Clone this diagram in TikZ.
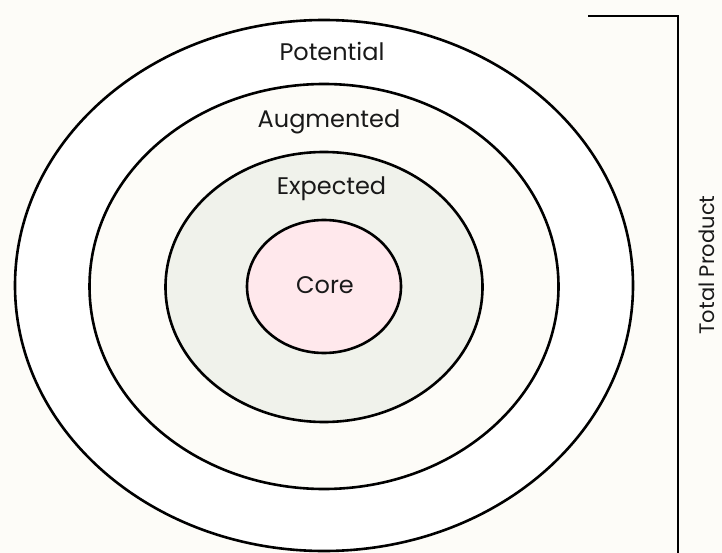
\documentclass[tikz,border=0pt]{standalone}
\usepackage{fontspec}
\setmainfont{Poppins}
\begin{document}
\begin{tikzpicture}[x=1pt,y=-1pt,
  ring/.style={draw=black, line width=2.6pt},
  lbl/.style={inner sep=0pt, anchor=base, text=black!90, font=\fontsize{24}{28}\selectfont},
  sidelbl/.style={inner sep=0pt, anchor=base, text=black!90, font=\fontsize{21}{24}\selectfont},
]
\definecolor{bgcream}{RGB}{253,252,248}
\definecolor{expfill}{RGB}{240,242,235}
\definecolor{corefill}{RGB}{255,232,236}
% canvas
\fill[bgcream] (0,0) rectangle (722,553);
\useasboundingbox (0,0) rectangle (722,553);
% nested layers, outermost first
\filldraw[ring, fill=white]    (324,285.5) ellipse [x radius=309pt, y radius=265.5pt];
\filldraw[ring, fill=bgcream]  (324,286.5) ellipse [x radius=234.5pt, y radius=202.5pt];
\filldraw[ring, fill=expfill]  (324,287)   ellipse [x radius=158.5pt, y radius=135pt];
\filldraw[ring, fill=corefill] (324,286.5) ellipse [x radius=77pt, y radius=66.5pt];
% layer names
\node[lbl] (potential) at (332,60.5) {Potential};
\node[lbl] (augmented) at (329,128) {Augmented};
\node[lbl] (expected)  at (331.5,195) {Expected};
\node[lbl] (core)      at (325,293) {Core};
% bracket spanning the whole product
\coordinate (btop) at (588,16);
\coordinate (bcorner) at (678,16);
\coordinate (bbot) at (678,555);
\draw[line width=2.6pt] (btop) -- (bcorner) -- (bbot);
\node[sidelbl, rotate=90] (total) at (714,265) {Total Product};
\end{tikzpicture}
\end{document}
